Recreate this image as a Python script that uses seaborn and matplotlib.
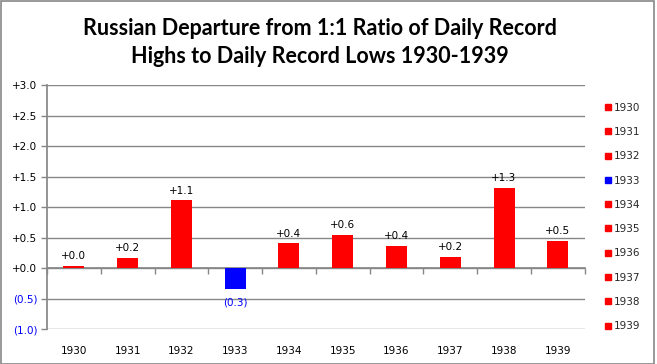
import numpy as np
import pandas as pd
import seaborn as sns
import matplotlib.pyplot as plt
from matplotlib.patches import Rectangle
from matplotlib.lines import Line2D

years = ['1930', '1931', '1932', '1933', '1934', '1935', '1936', '1937', '1938', '1939']
departure = [0.04, 0.17, 1.12, -0.34, 0.41, 0.55, 0.37, 0.19, 1.32, 0.45]
bar_colors = ['#FF0000', '#FF0000', '#FF0000', '#0000FF', '#FF0000',
              '#FF0000', '#FF0000', '#FF0000', '#FF0000', '#FF0000']
ytick_vals = [-1.0, -0.5, 0.0, 0.5, 1.0, 1.5, 2.0, 2.5, 3.0]


def fmt(v):
    if v < -1e-9:
        return '(%.1f)' % abs(v)
    return '+%.1f' % v


sns.set_theme(style='white')
plt.rcParams['font.family'] = ['DejaVu Sans']

df = pd.DataFrame({'Year': years, 'Departure': departure})

fig = plt.figure(figsize=(6.57, 3.64), dpi=100)
ax = fig.add_axes([0.0715, 0.096, 0.8185, 0.67])

sns.barplot(data=df, x='Year', y='Departure', hue='Year', palette=bar_colors,
            width=0.39, legend=False, saturation=1, linewidth=0, ax=ax)
for p in ax.patches:
    p.set_zorder(3)

grid_c = '#878787'
ax.set_ylim(-1.0, 3.0)
ax.set_xlim(-0.5, len(years) - 0.5)
ax.set_yticks(ytick_vals)
ax.set_yticklabels([fmt(v) for v in ytick_vals], fontsize=7.5)
for lab, v in zip(ax.get_yticklabels(), ytick_vals):
    lab.set_color('#0000FF' if v < 0 else 'black')
ax.yaxis.grid(True, color=grid_c, linewidth=1)
ax.set_axisbelow(True)
ax.tick_params(axis='y', left=True, length=4, width=1, color=grid_c, pad=3)

# category axis sits on zero, with ticks between categories
ax.spines['bottom'].set_position(('data', 0))
ax.spines['bottom'].set_color(grid_c)
ax.spines['left'].set_color(grid_c)
ax.spines['top'].set_visible(False)
ax.spines['right'].set_visible(False)
ax.set_xticks(np.arange(len(years) + 1) - 0.5)
ax.set_xticklabels([])
ax.tick_params(axis='x', bottom=True, length=4, width=1, color=grid_c, direction='out')
ax.set_xlabel('')
ax.set_ylabel('')

trans = ax.get_xaxis_transform()
for i, y in enumerate(years):
    ax.text(i, -0.09, y, transform=trans, ha='center', va='center', fontsize=7.5, color='black')

for i, v in enumerate(departure):
    if v >= 0:
        ax.text(i, v + 0.07, fmt(v), ha='center', va='bottom', fontsize=7.5, color='black')
    else:
        ax.text(i, v - 0.14, fmt(v), ha='center', va='top', fontsize=7.5, color='#0000FF')

handles = [Line2D([], [], marker='s', linestyle='none', markersize=5,
                  markerfacecolor=c, markeredgecolor=c) for c in bar_colors]
leg = fig.legend(handles, years, loc='upper left', bbox_to_anchor=(0.912, 0.732),
                 frameon=False, fontsize=7.5, handlelength=0.6, handletextpad=0.3,
                 labelspacing=1.37, borderpad=0)

fig.text(0.487, 0.883, 'Russian Departure from 1:1 Ratio of Daily Record\nHighs to Daily Record Lows 1930-1939',
         ha='center', va='center', fontsize=15.5, fontweight='bold', family='Lato',
         linespacing=1.4, color='black')

fig.patches.append(Rectangle((0.001, 0.001), 0.995, 0.995, transform=fig.transFigure,
                             fill=False, edgecolor='#888888', linewidth=1.2))

fig.savefig('out.png', dpi=100)
